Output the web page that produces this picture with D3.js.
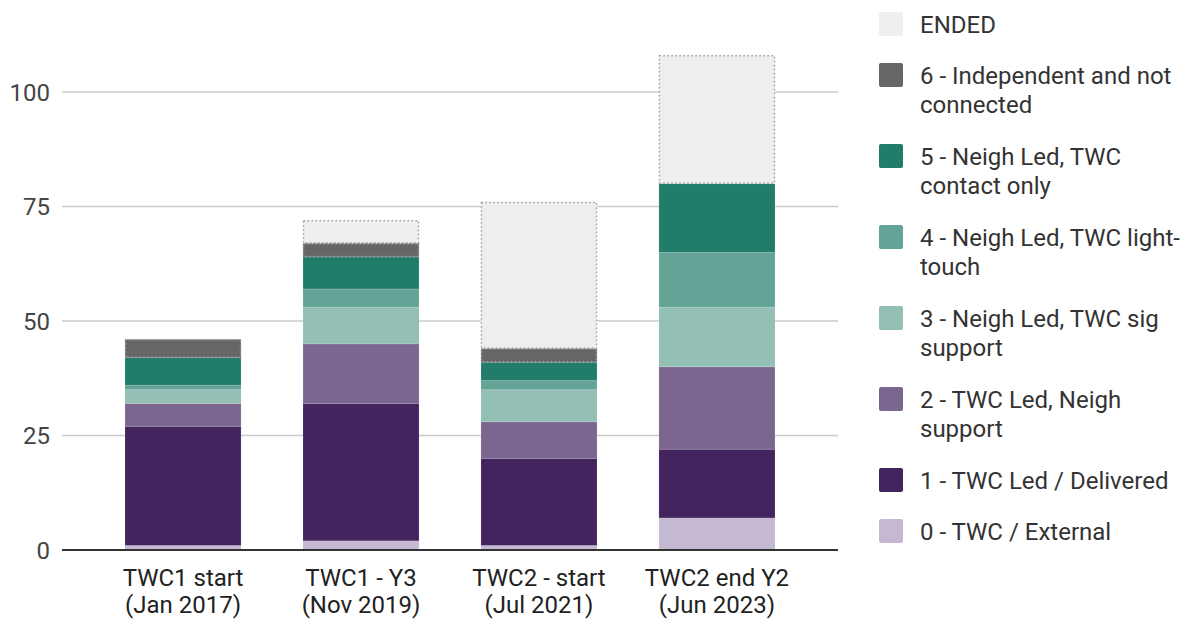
<!DOCTYPE html>
<html>
<head>
<meta charset="utf-8">
<script src="https://cdn.jsdelivr.net/npm/d3@7"></script>
<style>
  html, body { margin: 0; padding: 0; background: #fff; }
  svg { display: block; font-family: Roboto, "Noto Sans", sans-serif; }
</style>
</head>
<body>
<svg id="chart" width="1196" height="621"></svg>
<script>
// ---- data ----
const categories = [
  ["TWC1 start", "(Jan 2017)"],
  ["TWC1 - Y3", "(Nov 2019)"],
  ["TWC2 - start", "(Jul 2021)"],
  ["TWC2 end Y2", "(Jun 2023)"]
];
// stacking order: bottom to top
const seriesNames = ["0 - TWC / External", "1 - TWC Led / Delivered", "2 - TWC Led, Neigh support",
  "3 - Neigh Led, TWC sig support", "4 - Neigh Led, TWC light-touch", "5 - Neigh Led, TWC contact only",
  "6 - Independent and not connected", "ENDED"];
const s0 = [1, 2, 1, 7];
const s1 = [26, 30, 19, 15];
const s2 = [5, 13, 8, 18];
const s3 = [3, 8, 7, 13];
const s4 = [1, 4, 2, 12];
const s5 = [6, 7, 4, 15];
const s6 = [4, 3, 3, 0];
const sEnded = [0, 5, 32, 28];
const seriesColors = ["#c5b8d2", "#43245f", "#7b668f", "#93bfb4", "#63a496", "#217c6a", "#666666", "#efefef"];
const yTicks = [0, 25, 50, 75, 100];
// legend lines (top to bottom)
const legendLines = [
  ["ENDED"],
  ["6 - Independent and not", "connected"],
  ["5 - Neigh Led, TWC", "contact only"],
  ["4 - Neigh Led, TWC light-", "touch"],
  ["3 - Neigh Led, TWC sig", "support"],
  ["2 - TWC Led, Neigh", "support"],
  ["1 - TWC Led / Delivered"],
  ["0 - TWC / External"]
];

// ---- build ----
const seriesValues = [s0, s1, s2, s3, s4, s5, s6, sEnded];
const table = categories.map((c, i) => {
  const row = { cat: c.join(" ") };
  seriesNames.forEach((n, k) => row[n] = seriesValues[k][i]);
  return row;
});
const stack = d3.stack().keys(seriesNames)(table);

const svg = d3.select("#chart");
const x = d3.scaleBand().domain(table.map(d => d.cat)).range([62, 838])
  .paddingInner(0.348).paddingOuter(0.354);
const y = d3.scaleLinear().domain([0, 100]).range([550, 92]);

// gridlines
svg.append("g").selectAll("line").data(yTicks.filter(t => t !== 0)).join("line")
  .attr("x1", 62).attr("x2", 838)
  .attr("y1", d => y(d)).attr("y2", d => y(d))
  .attr("stroke", "#cccccc").attr("stroke-width", 1.5);

// y labels
svg.append("g").selectAll("text").data(yTicks).join("text")
  .attr("x", 50).attr("y", d => y(d)).attr("dy", "0.36em")
  .attr("text-anchor", "end").attr("fill", "#444").attr("font-size", 24)
  .text(d => d);

// bars
const dotted = new Set(["ENDED", "6 - Independent and not connected"]);
const layers = svg.append("g").selectAll("g").data(stack).join("g")
  .attr("fill", (d, i) => seriesColors[i]);
layers.selectAll("rect").data(d => d.map(p => ({ p, key: d.key }))).join("rect")
  .filter(d => d.p[1] - d.p[0] > 0)
  .attr("x", d => x(d.p.data.cat))
  .attr("width", x.bandwidth())
  .attr("y", d => y(d.p[1]))
  .attr("height", d => y(d.p[0]) - y(d.p[1]))
  .attr("stroke", "#ffffff").attr("stroke-opacity", 0.12).attr("stroke-width", 1);
// dotted outlines
svg.append("g").selectAll("rect")
  .data(stack.filter(s => dotted.has(s.key)).flatMap(s => s.filter(p => p[1] - p[0] > 0)))
  .join("rect")
  .attr("x", d => x(d.data.cat) + 0.5)
  .attr("width", x.bandwidth() - 1)
  .attr("y", d => y(d[1]) + 0.5)
  .attr("height", d => y(d[0]) - y(d[1]) - 1)
  .attr("fill", "none").attr("stroke", "#a0a0a0").attr("stroke-width", 1.5)
  .attr("stroke-dasharray", "1.5,2.5");

// baseline
svg.append("line").attr("x1", 62).attr("x2", 838).attr("y1", y(0)).attr("y2", y(0))
  .attr("stroke", "#333").attr("stroke-width", 2);

// x labels
const xl = svg.append("g").selectAll("text").data(categories).join("text")
  .attr("x", (d, i) => x(table[i].cat) + x.bandwidth() / 2)
  .attr("text-anchor", "middle").attr("fill", "#222").attr("font-size", 24);
xl.selectAll("tspan").data(d => d).join("tspan")
  .attr("x", function () { return d3.select(this.parentNode).attr("x"); })
  .attr("y", (d, j) => 586 + j * 27)
  .text(d => d);

// legend
const legendColors = seriesColors.slice().reverse();
let ly = 12;
legendLines.forEach((lines, i) => {
  const g = svg.append("g");
  g.append("rect").attr("x", 879).attr("y", ly).attr("width", 24).attr("height", 24)
    .attr("rx", 2).attr("fill", legendColors[i]);
  g.append("text").attr("font-size", 24).attr("fill", "#333")
    .selectAll("tspan").data(lines).join("tspan")
    .attr("x", 920).attr("y", (d, j) => ly + 21 + j * 29).text(d => d);
  ly += 51 + (lines.length - 1) * 30;
});
</script>
</body>
</html>
